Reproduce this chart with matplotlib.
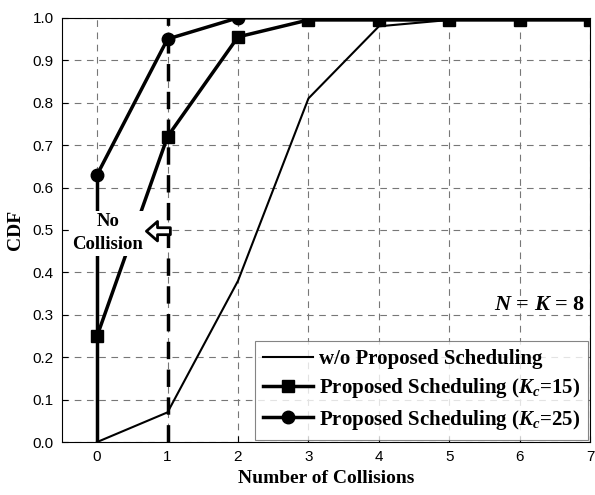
import numpy as np
import matplotlib.pyplot as plt

# valores
colisoes = [0, 1, 2, 3, 4, 5, 6, 7]
cdf_sem = [0.0, 0.07, 0.38, 0.81, 0.98, 0.995, 1.0, 1.0]
cdf_k15 = [0.25, 0.72, 0.955, 0.995, 0.995, 0.995, 0.995, 0.995]
cdf_k25 = [0.63, 0.95, 1.0, 1.0, 1.0, 1.0, 1.0, 1.0]
yticks = np.round(np.arange(0, 1.01, 0.1), 1)

serif = 'Liberation Serif'
sans = 'Liberation Sans'

plt.rcParams['mathtext.fontset'] = 'custom'
plt.rcParams['mathtext.it'] = 'Liberation Serif:italic:bold'
plt.rcParams['mathtext.rm'] = 'Liberation Serif:bold'

fig = plt.figure(figsize=(5.95, 4.95), dpi=100)
ax = fig.add_axes([0.104, 0.107, 0.888, 0.857])

ax.grid(True, linestyle=(0, (6, 5)), color='#777777', linewidth=0.8)

# trecho vertical em x=0 (partindo de zero)
ax.plot([colisoes[0], colisoes[0]], [0, cdf_k25[0]], color='black', linewidth=2.5)

ax.plot(colisoes, cdf_sem, color='black', linewidth=1.5,
        label='w/o Proposed Scheduling')
ax.plot(colisoes, cdf_k15, color='black', linewidth=2.5, marker='s',
        markersize=8, label='Proposed Scheduling ($K_c$=15)')
ax.plot(colisoes, cdf_k25, color='black', linewidth=2.5, marker='o',
        markersize=9, markevery=[0, 1, 2],
        label='Proposed Scheduling ($K_c$=25)')

ax.axvline(1, color='black', linewidth=2.5, linestyle=(0, (5, 3)))

ax.set_xlim(-0.5, 7)
ax.set_ylim(0, 1)
ax.set_xticks(colisoes)
ax.set_yticks(yticks)
ax.set_yticklabels(['%.1f' % v for v in yticks])
ax.tick_params(direction='in', length=4, labelsize=11, pad=6)
for lab in ax.get_xticklabels() + ax.get_yticklabels():
    lab.set_fontfamily(sans)

ax.set_xlabel('Number of Collisions', fontfamily=serif, fontweight='bold',
              fontsize=14, labelpad=4)
ax.set_ylabel('CDF', fontfamily=serif, fontweight='bold', fontsize=14,
              labelpad=6)

ax.text(0.15, 0.492, 'No\nCollision', ha='center', va='center',
        fontfamily=serif, fontweight='bold', fontsize=13.5, linespacing=1.45,
        bbox=dict(facecolor='white', edgecolor='none', pad=2), zorder=5)
ax.annotate('', xy=(0.70, 0.497), xytext=(1.04, 0.497),
            arrowprops=dict(arrowstyle='simple,head_length=0.8,head_width=1.4,tail_width=0.5',
                            facecolor='white', edgecolor='black', linewidth=2,
                            shrinkA=0, shrinkB=0), zorder=5)

ax.text(6.92, 0.322, '$N$ = $K$ = 8', ha='right',
        va='center', fontfamily=serif, fontweight='bold', fontsize=16)

leg = ax.legend(loc='lower right', prop={'family': serif, 'weight': 'bold', 'size': 15},
                frameon=True, fancybox=False, edgecolor='#666666',
                handlelength=2.4, handletextpad=0.25, borderaxespad=0.1,
                labelspacing=0.35, borderpad=0.4)
leg.get_frame().set_linewidth(0.8)

fig.savefig('out.png', dpi=100)
